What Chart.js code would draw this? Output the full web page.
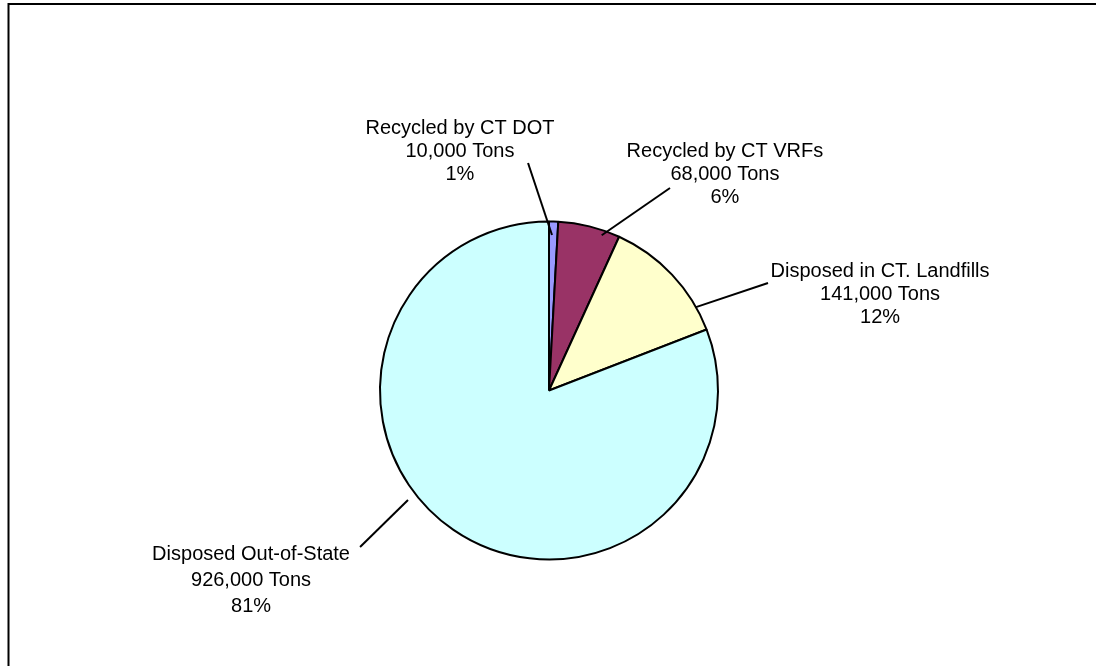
<!DOCTYPE html>
<html>
<head>
<meta charset="utf-8">
<style>
  html, body { margin: 0; padding: 0; background: #fff; }
  #wrap { width: 1096px; height: 666px; position: relative; }
</style>
<script src="https://cdn.jsdelivr.net/npm/chart.js@4/dist/chart.umd.min.js"></script>
</head>
<body>
<div id="wrap"><canvas id="c" width="1096" height="666"></canvas></div>
<script>
// ---- data ----
const categories = ["Recycled by CT DOT", "Recycled by CT VRFs", "Disposed in CT. Landfills", "Disposed Out-of-State"];
const tons = [10000, 68000, 141000, 926000];
const sliceColors = ["#9999FF", "#993366", "#FFFFCC", "#CCFFFF"];

// label layout (relative to pie centre, in units of radius)
const labelAnchor = [[-0.527, -1.518], [1.041, -1.382], [1.959, -0.672], [-1.763, 1.003]];
const leaderStart = [[-0.124, -1.346], [0.716, -1.198], [1.296, -0.636], [-1.118, 0.926]];
const leaderEnd = [[0.35, 0.92], [0.73, 0.97], [0.81, 1.0], [0.561, 1.056]]; // [fraction along arc, radius factor]
const lineGap = [23, 23, 23, 26];

const total = tons.reduce((a, b) => a + b, 0);

const labelPlugin = {
  id: 'pieLabels',
  afterDraw(chart) {
    const ctx = chart.ctx;
    const meta = chart.getDatasetMeta(0);
    ctx.save();
    // outer frame
    ctx.strokeStyle = '#000';
    ctx.lineWidth = 2;
    ctx.strokeRect(8.5, 4, 1200, 1000);

    ctx.font = '20px "Liberation Sans", Arial, sans-serif';
    ctx.fillStyle = '#000';
    ctx.textAlign = 'center';
    ctx.textBaseline = 'alphabetic';
    meta.data.forEach((arc, i) => {
      const p = arc.getProps(['x', 'y', 'startAngle', 'endAngle', 'outerRadius'], true);
      const r = p.outerRadius;
      const a = p.startAngle + (p.endAngle - p.startAngle) * leaderEnd[i][0];
      const ex = p.x + Math.cos(a) * r * leaderEnd[i][1];
      const ey = p.y + Math.sin(a) * r * leaderEnd[i][1];
      const sx = p.x + leaderStart[i][0] * r;
      const sy = p.y + leaderStart[i][1] * r;
      ctx.beginPath();
      ctx.strokeStyle = '#000';
      ctx.lineWidth = 2;
      ctx.moveTo(sx, sy);
      ctx.lineTo(ex, ey);
      ctx.stroke();

      const lx = p.x + labelAnchor[i][0] * r;
      const ly = p.y + labelAnchor[i][1] * r;
      const pct = Math.round(tons[i] / total * 100) + '%';
      const lines = [categories[i], tons[i].toLocaleString('en-US') + ' Tons', pct];
      lines.forEach((t, k) => ctx.fillText(t, lx, ly + k * lineGap[i]));
    });
    ctx.restore();
  }
};

new Chart(document.getElementById('c'), {
  type: 'pie',
  data: {
    labels: categories,
    datasets: [{
      data: tons,
      backgroundColor: sliceColors,
      borderColor: '#000',
      borderWidth: 2
    }]
  },
  options: {
    responsive: false,
    animation: false,
    layout: { padding: { top: 220.5, bottom: 105.5, left: 200, right: 198 } },
    plugins: { legend: { display: false }, tooltip: { enabled: false } }
  },
  plugins: [labelPlugin]
});
</script>
</body>
</html>
